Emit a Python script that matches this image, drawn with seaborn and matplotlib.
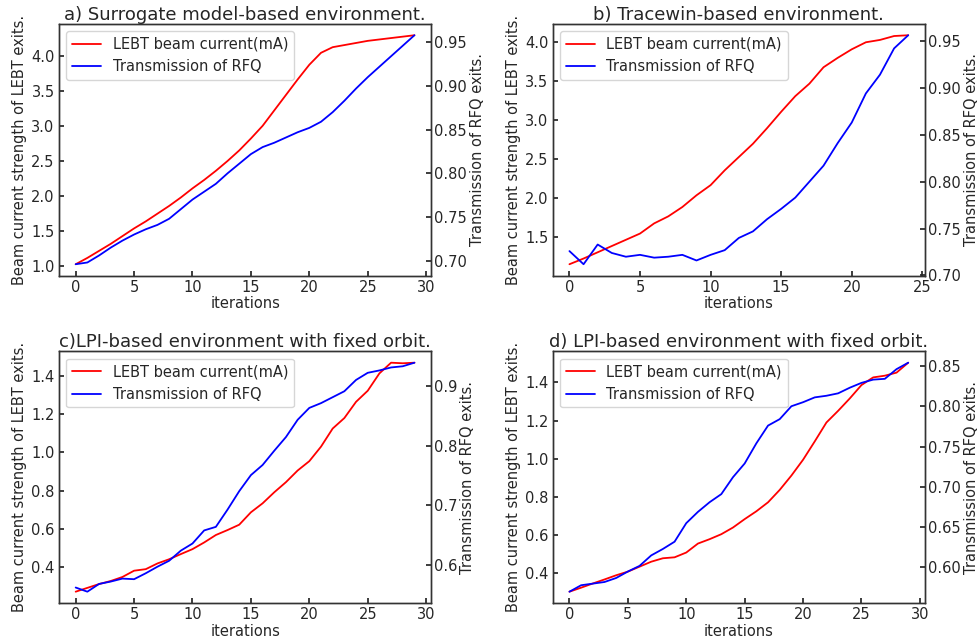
import matplotlib
matplotlib.use("Agg")
import matplotlib.pyplot as plt
import seaborn as sns
import numpy as np

# iterations
iters_30 = list(range(30))
iters_25 = list(range(25))

# a) surrogate model
a_current = [1.03, 1.12, 1.22, 1.32, 1.43, 1.54, 1.64, 1.75, 1.86, 1.98,
             2.11, 2.23, 2.36, 2.50, 2.65, 2.82, 3.00, 3.22, 3.44, 3.66,
             3.87, 4.04, 4.12, 4.15, 4.18, 4.21, 4.23, 4.25, 4.27, 4.29]
a_trans = [0.696, 0.698, 0.706, 0.715, 0.723, 0.730, 0.736, 0.741, 0.748, 0.759,
           0.770, 0.779, 0.788, 0.800, 0.811, 0.822, 0.830, 0.835, 0.841, 0.847,
           0.852, 0.859, 0.870, 0.883, 0.897, 0.910, 0.922, 0.934, 0.946, 0.958]

# b) tracewin
b_current = [1.157, 1.23, 1.31, 1.39, 1.47, 1.55, 1.68, 1.77, 1.89, 2.04,
             2.17, 2.36, 2.53, 2.70, 2.90, 3.11, 3.31, 3.47, 3.68, 3.80,
             3.91, 4.00, 4.03, 4.08, 4.09]
b_trans = [0.726, 0.712, 0.733, 0.724, 0.720, 0.722, 0.719, 0.720, 0.722, 0.716,
           0.722, 0.727, 0.740, 0.747, 0.760, 0.771, 0.783, 0.800, 0.817, 0.841,
           0.863, 0.894, 0.914, 0.942, 0.956]

# c) LPI fixed orbit
c_current = [0.270, 0.290, 0.310, 0.326, 0.347, 0.380, 0.388, 0.418, 0.440, 0.467,
             0.493, 0.528, 0.567, 0.593, 0.621, 0.686, 0.733, 0.791, 0.844, 0.905,
             0.954, 1.030, 1.125, 1.180, 1.265, 1.323, 1.414, 1.470, 1.467, 1.470]
c_trans = [0.562, 0.555, 0.568, 0.572, 0.577, 0.576, 0.586, 0.597, 0.607, 0.624,
           0.636, 0.658, 0.664, 0.693, 0.724, 0.751, 0.768, 0.792, 0.815, 0.844,
           0.864, 0.872, 0.882, 0.892, 0.911, 0.923, 0.927, 0.932, 0.934, 0.940]

# d) LPI fixed orbit
d_current = [0.304, 0.325, 0.347, 0.368, 0.390, 0.409, 0.435, 0.461, 0.479, 0.484,
             0.509, 0.556, 0.579, 0.605, 0.640, 0.684, 0.725, 0.772, 0.837, 0.912,
             0.995, 1.091, 1.190, 1.251, 1.316, 1.386, 1.426, 1.435, 1.451, 1.503]
d_trans = [0.570, 0.578, 0.580, 0.582, 0.587, 0.595, 0.602, 0.615, 0.623, 0.632,
           0.655, 0.669, 0.681, 0.691, 0.712, 0.729, 0.754, 0.776, 0.784, 0.800,
           0.805, 0.811, 0.813, 0.816, 0.823, 0.829, 0.833, 0.834, 0.846, 0.854]

titles = ["a) Surrogate model-based environment.",
          "b) Tracewin-based environment.",
          "c)LPI-based environment with fixed orbit.",
          "d) LPI-based environment with fixed orbit."]

panels = [
    (iters_30, a_current, a_trans),
    (iters_25, b_current, b_trans),
    (iters_30, c_current, c_trans),
    (iters_30, d_current, d_trans),
]

sns.set_theme(style="ticks", rc={"xtick.direction": "in", "ytick.direction": "in",
                                 "axes.linewidth": 1.0, "axes.edgecolor": "#333333"})

fig, axes = plt.subplots(2, 2, figsize=(9.79, 6.43), dpi=100)
plt.subplots_adjust(left=0.06, right=0.945, top=0.963, bottom=0.062,
                    wspace=0.325, hspace=0.30)

for ax, title, (x, cur, tr) in zip(axes.flat, titles, panels):
    sns.lineplot(x=x, y=cur, ax=ax, color="red", linewidth=1.3,
                 label="LEBT beam current(mA)", legend=False)
    ax2 = ax.twinx()
    sns.lineplot(x=x, y=tr, ax=ax2, color="blue", linewidth=1.3,
                 label="Transmission of RFQ", legend=False)
    ax.set_title(title, fontsize=13, pad=3)
    ax.set_xlabel("iterations", fontsize=10.5, labelpad=1)
    ax.set_ylabel("Beam current strength of LEBT exits.", fontsize=10.5, labelpad=3)
    ax2.set_ylabel("Transmission of RFQ exits.", fontsize=10.5, labelpad=2)
    ax.tick_params(labelsize=10.5, direction="in", length=3.5, pad=3)
    ax2.tick_params(labelsize=10.5, direction="in", length=3.5, pad=2)
    h1, l1 = ax.get_legend_handles_labels()
    h2, l2 = ax2.get_legend_handles_labels()
    ax.legend(h1 + h2, l1 + l2, loc="upper left", fontsize=10.5)

fig.savefig("out.png", dpi=100)
